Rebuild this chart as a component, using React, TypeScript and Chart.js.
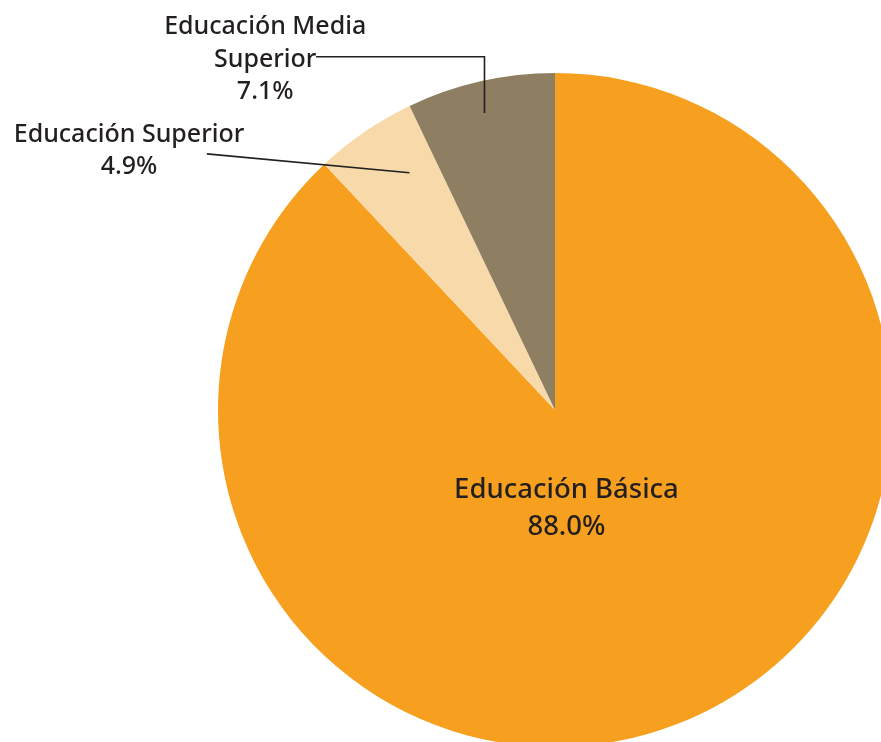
import React, { useEffect, useRef } from "react";
import { Chart, registerables } from "chart.js";

Chart.register(...registerables);

const categories = ["Educación Básica", "Educación Superior", "Educación Media Superior"];
const labelLines = [["Educación Básica"], ["Educación Superior"], ["Educación Media", "Superior"]];
const values = [88.0, 4.9, 7.1];
const colors = ["#F7A01F", "#F8D9AA", "#8E7F62"];

const FONT = "'Noto Sans', 'Open Sans', sans-serif";
const TEXT = "#231F20";

const labelPlugin = {
  id: "pieLabels",
  afterDraw(chart: any) {
    const ctx = chart.ctx;
    const meta = chart.getDatasetMeta(0);
    const arcs = meta.data as any[];
    const { x: cx, y: cy } = arcs[0].getProps(["x", "y"], true);
    const R = arcs[0].outerRadius;
    ctx.save();
    ctx.fillStyle = TEXT;
    ctx.strokeStyle = TEXT;
    ctx.textAlign = "center";
    ctx.textBaseline = "middle";
    const pct = (v: number) => v.toFixed(1) + "%";
    const shift = 3;

    // inside label (Básica)
    ctx.font = `500 27.5px ${FONT}`;
    const bx = cx + R * 0.034;
    const by = cy + R * 0.228 + shift;
    ctx.fillText(labelLines[0][0], bx, by);
    ctx.fillText(pct(values[0]), bx, by + 37);

    ctx.font = `500 25px ${FONT}`;
    const polar = (a: number, r: number) => [cx + Math.cos(a) * r, cy + Math.sin(a) * r];

    // Educación Superior
    {
      const a = arcs[1];
      const mid = (a.startAngle + a.endAngle) / 2 + 0.05;
      const [px, py] = polar(mid, R * 0.826);
      const tx = cx - R * 1.264;
      const ty = cy - R * 0.825 + shift;
      ctx.lineWidth = 1.6;
      ctx.beginPath();
      ctx.moveTo(px, py);
      ctx.lineTo(cx - R * 1.033, cy - R * 0.76);
      ctx.stroke();
      ctx.fillText(labelLines[1][0], tx, ty);
      ctx.fillText(pct(values[1]), tx, ty + 32);
    }
    // Educación Media Superior
    {
      const a = arcs[2];
      const mid = (a.startAngle + a.endAngle) / 2 - 0.01;
      const [px, py] = polar(mid, R * 0.906);
      const tx = cx - R * 0.86;
      const ty = cy - R * 1.145 + shift;
      const lineY = cy - R * 1.048;
      ctx.lineWidth = 1.6;
      ctx.beginPath();
      ctx.moveTo(px, py);
      ctx.lineTo(px, lineY);
      ctx.lineTo(cx - R * 0.709, lineY);
      ctx.stroke();
      ctx.fillText(labelLines[2][0], tx, ty);
      ctx.fillText(labelLines[2][1], tx, ty + 32.5);
      ctx.fillText(pct(values[2]), tx, ty + 65);
    }
    ctx.restore();
  },
};

export default function App() {
  const ref = useRef<HTMLCanvasElement>(null);
  useEffect(() => {
    if (!ref.current) return;
    const chart = new Chart(ref.current, {
      type: "pie",
      data: {
        labels: categories,
        datasets: [
          {
            data: values,
            backgroundColor: colors,
            borderWidth: 0,
          },
        ],
      },
      options: {
        responsive: false,
        animation: false,
        layout: { padding: { left: 218, top: 73, right: 218, bottom: 73 } },
        plugins: {
          legend: { display: false },
          tooltip: { enabled: false },
        },
      },
      plugins: [labelPlugin],
    });
    return () => chart.destroy();
  }, []);
  return (
    <div style={{ position: "fixed", left: 0, top: 0, width: 881, height: 742, overflow: "hidden", background: "#fff" }}>
      <canvas ref={ref} width={1110} height={820} style={{ width: 1110, height: 820 }} />
    </div>
  );
}
